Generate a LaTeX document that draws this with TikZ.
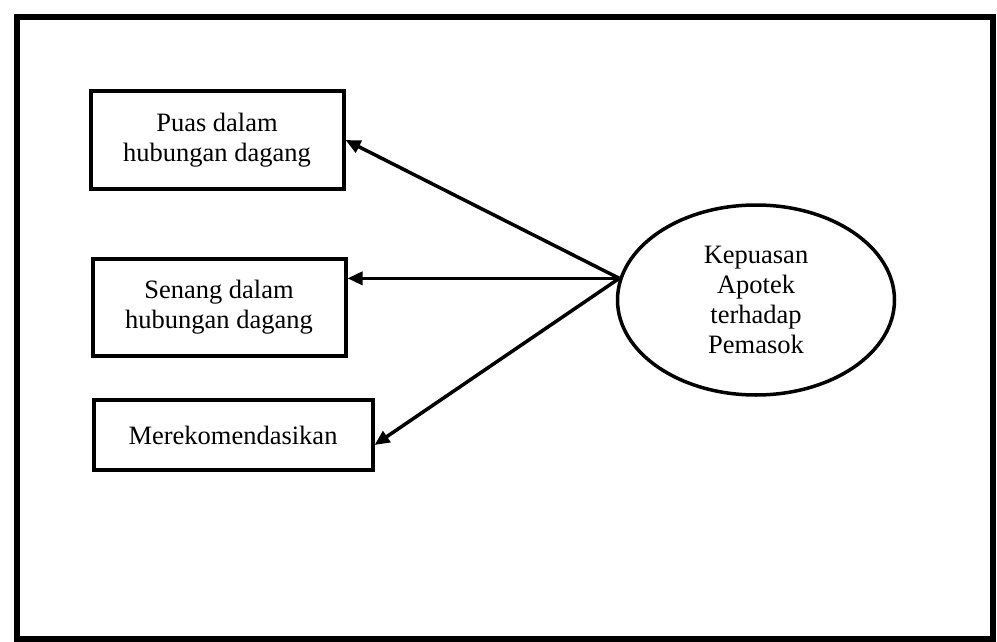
\documentclass[tikz,border=0pt]{standalone}
\usepackage{fontspec}
\setmainfont{Liberation Serif}
\usetikzlibrary{arrows.meta,shapes.geometric,calc}
\begin{document}
\begin{tikzpicture}[x=1pt,y=-1pt,
  frame/.style={draw,line width=6pt},
  itembox/.style={draw,line width=4pt,rectangle,inner sep=0pt,align=center,
    font=\fontsize{26.5}{30}\selectfont},
  latent/.style={draw,line width=3.5pt,ellipse,inner sep=0pt,align=center,
    minimum width=277pt,minimum height=190pt,font=\fontsize{26.5}{30}\selectfont},
  link/.style={line width=3.5pt,-{Triangle[length=15pt,width=13pt]}}]
  \useasboundingbox (0,0) rectangle (997,642);
  % outer frame
  \draw[frame] (17,17) rectangle (993,639);
  % indicator boxes
  \node[itembox,minimum width=253pt,minimum height=97pt] (b1) at (217,140)
    {Puas dalam\\hubungan dagang};
  \node[itembox,minimum width=253pt,minimum height=97pt] (b2) at (219,307)
    {Senang dalam\\hubungan dagang};
  \node[itembox,minimum width=279pt,minimum height=70pt] (b3) at (233,435)
    {Merekomendasikan};
  % latent construct
  \node[latent] (el) at (756,300) {Kepuasan\\Apotek\\terhadap\\Pemasok};
  \coordinate (src) at (el.171.6);
  \coordinate (t3) at ($(b3.east)+(0,10)$);
  % loadings
  \draw[link] (src) -- (b1.east);
  \draw[link] (src) -- (b2.east |- src);
  \draw[link] (src) -- (t3);
\end{tikzpicture}
\end{document}
